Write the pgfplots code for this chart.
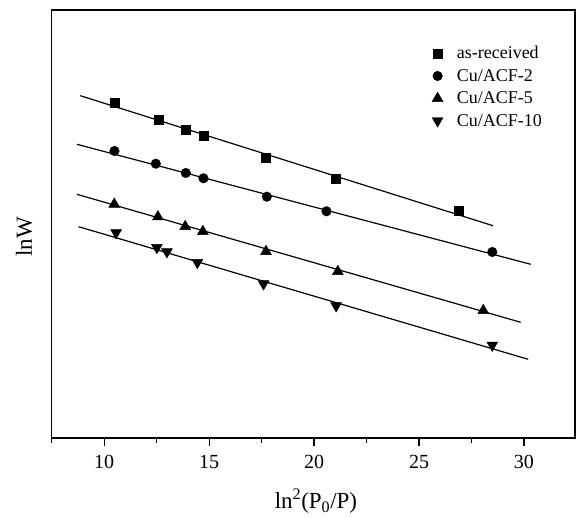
\documentclass[border=0pt]{standalone}
\usepackage{fontspec}
\setmainfont{Liberation Serif}
\usepackage{pgfplots}
\pgfplotsset{compat=1.18}
\begin{document}
\begin{tikzpicture}
\begin{axis}[
  at={(0pt,0pt)}, anchor=south west,
  scale only axis, width=523.3pt, height=428pt,
  xmin=7.5, xmax=32.43, ymin=0, ymax=428,
  xtick={10,15,20,25,30},
  minor xtick={7.5,12.5,17.5,22.5,27.5,32.5},
  ytick=\empty,
  xtick pos=bottom, tick align=outside,
  major tick length=8pt, minor tick length=5pt,
  every tick/.style={black, line width=1.2pt},
  axis line style={line width=1.3pt},
  /pgf/number format/assume math mode=true,
  ticklabel style={font=\fontsize{20}{24}\selectfont},
  xticklabel style={yshift=-6pt},
  xlabel={ln\textsuperscript{2}(P\textsubscript{0}/P)},
  xlabel style={font=\fontsize{23}{27}\selectfont, at={(axis description cs:0.505,-0.165)}, anchor=base},
  ylabel={lnW},
  ylabel style={font=\fontsize{23}{27}\selectfont, at={(axis description cs:-0.053,0.47)}, anchor=center},
  legend style={draw=none, fill=none, at={(axis description cs:0.708,0.925)}, anchor=north west, font=\fontsize{18}{21}\selectfont, row sep=5pt},
  legend cell align=left,
  legend image code/.code={\path (0pt,0pt) (29pt,0pt); \draw[mark repeat=2,mark phase=2,#1] plot coordinates {(0pt,0pt) (12pt,0pt) (29pt,0pt)};},
]
% fitted lines
\addplot[black, line width=1.2pt, forget plot] coordinates {(8.86,342.3) (28.52,212.3)};
\addplot[black, line width=1.2pt, forget plot] coordinates {(8.70,293.7) (30.32,173.7)};
\addplot[black, line width=1.2pt, forget plot] coordinates {(8.70,243.7) (29.84,115.7)};
\addplot[black, line width=1.2pt, forget plot] coordinates {(8.78,211.3) (30.20,78.7)};
% data
\addplot[only marks, mark=square*, mark size=4.5pt, black] coordinates {
(10.52,335.3) (12.59,318) (13.89,308) (14.73,302.7) (17.71,280.7) (21.03,259.3) (26.90,227.3)};
\addlegendentry{as-received}
\addplot[only marks, mark=*, mark size=4.8pt, black] coordinates {
(10.49,287) (12.46,274.3) (13.89,265) (14.73,259.7) (17.75,241.3) (20.59,226.7) (28.49,186)};
\addlegendentry{Cu/ACF-2}
\addplot[only marks, mark=triangle*, mark size=6.3pt, black] coordinates {
(10.48,233.8) (12.56,221.2) (13.86,211.5) (14.70,206.5) (17.71,186.5) (21.13,166.5) (28.06,127.5)};
\addlegendentry{Cu/ACF-5}
\addplot[only marks, mark=triangle*, mark size=6.3pt, mark options={rotate=180}, black] coordinates {
(10.57,205.2) (12.51,190.5) (12.99,186.2) (14.44,175.5) (17.59,154.2) (21.05,132.2) (28.49,92.8)};
\addlegendentry{Cu/ACF-10}
\end{axis}
\pgfresetboundingbox
\path[use as bounding box] (-51.7pt,-80pt) rectangle (524.3pt,438pt);
\end{tikzpicture}
\end{document}
